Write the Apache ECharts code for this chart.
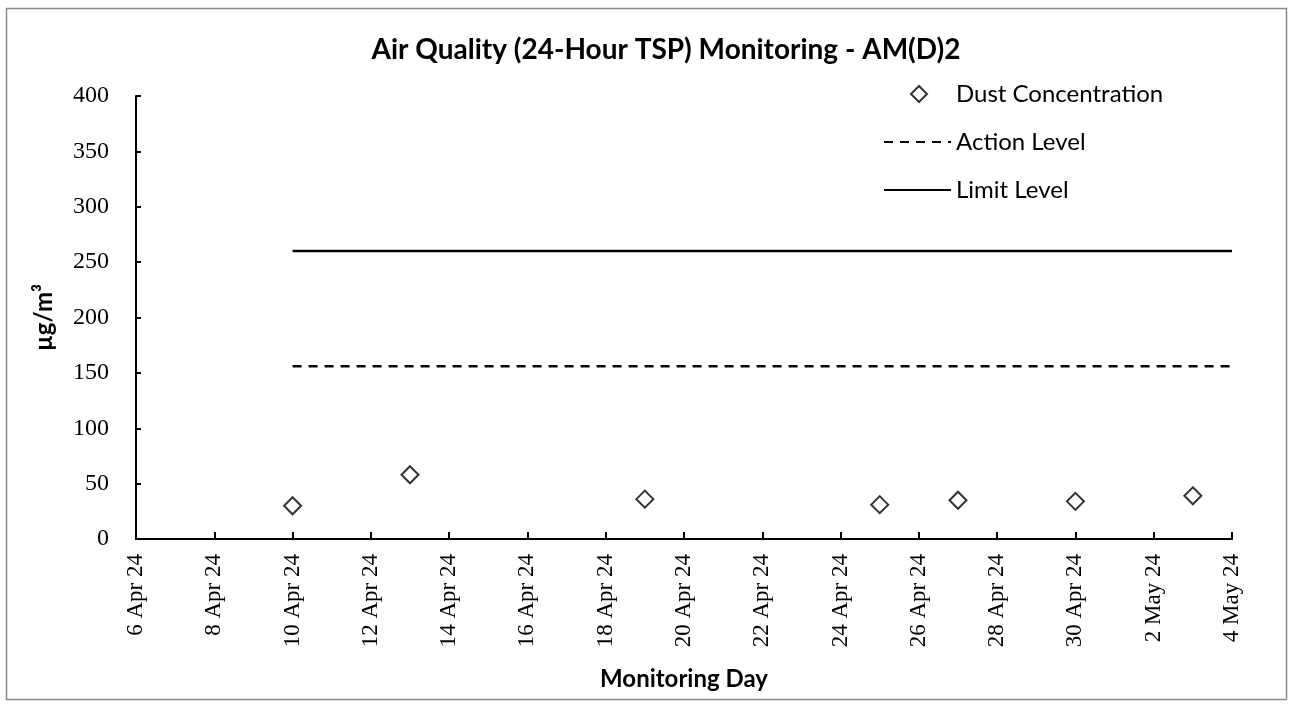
<!DOCTYPE html>
<html>
<head>
<meta charset="utf-8">
<script src="https://cdn.jsdelivr.net/npm/echarts@6/dist/echarts.min.js"></script>
<style>
  html, body { margin: 0; padding: 0; background: #fff; }
  #chart { width: 1293px; height: 704px; }
</style>
</head>
<body>
<div id="chart"></div>
<script>
// Monitoring dates and 24-hour TSP results (µg/m³)
const sampleDates = ['2024-04-10', '2024-04-13', '2024-04-19', '2024-04-25', '2024-04-27', '2024-04-30', '2024-05-03'];
const dustValues = [30, 58, 36, 31, 35, 34, 39];

// Compliance levels and the span over which they apply
const levelDates = ['2024-04-10', '2024-05-04'];
const actionLevel = 156;
const limitLevel = 260;

// Axis range
const axisStart = '2024-04-06';
const axisEnd = '2024-05-04';
const dayStep = 2;
const yTicks = [0, 50, 100, 150, 200, 250, 300, 350, 400];

const MONTHS = ['Jan', 'Feb', 'Mar', 'Apr', 'May', 'Jun', 'Jul', 'Aug', 'Sep', 'Oct', 'Nov', 'Dec'];
const DAY = 86400000;
const base = Date.parse(axisStart + 'T00:00:00Z');
const dayOf = s => Math.round((Date.parse(s + 'T00:00:00Z') - base) / DAY);
const dateLabel = d => {
  const t = new Date(base + d * DAY);
  return t.getUTCDate() + ' ' + MONTHS[t.getUTCMonth()] + ' ' + String(t.getUTCFullYear()).slice(2);
};

const serif = '"Liberation Serif", "Times New Roman", serif';
const sans = 'Lato, "Open Sans", sans-serif';
const legendText = { fontFamily: sans, fontSize: 24, color: '#000' };

const chart = echarts.init(document.getElementById('chart'));
chart.setOption({
  animation: false,
  backgroundColor: '#fff',
  graphic: [{
    type: 'rect',
    shape: { x: 6.5, y: 8.5, width: 1280, height: 691 },
    style: { fill: 'none', stroke: '#8a8a8a', lineWidth: 1.5 },
    silent: true
  }],
  title: {
    text: 'Air Quality (24-Hour TSP) Monitoring - AM(D)2',
    left: 661, top: 31, textAlign: 'center',
    textStyle: { fontFamily: sans, fontWeight: 'bold', fontSize: 28, color: '#000' }
  },
  legend: [
    {
      // marker entry
      orient: 'vertical',
      left: 905, top: 77,
      itemWidth: 16, itemHeight: 16,
      textStyle: Object.assign({ padding: [0, 0, 0, 24] }, legendText),
      data: ['Dust Concentration']
    },
    {
      // line entries
      orient: 'vertical',
      left: 878, top: 125,
      itemWidth: 67, itemHeight: 14, itemGap: 24,
      textStyle: Object.assign({ padding: [0, 0, 0, 0] }, legendText),
      data: [
        { name: 'Action Level', itemStyle: { opacity: 0 } },
        { name: 'Limit Level', itemStyle: { opacity: 0 } }
      ]
    }
  ],
  grid: { left: 136, right: 61, top: 96, bottom: 165, containLabel: false },
  xAxis: {
    type: 'value',
    min: 0, max: dayOf(axisEnd), interval: dayStep,
    name: 'Monitoring Day', nameLocation: 'middle', nameGap: 128,
    nameTextStyle: { fontFamily: sans, fontWeight: 'bold', fontSize: 24, color: '#000' },
    axisLine: { lineStyle: { color: '#000', width: 2 } },
    axisTick: { inside: true, length: 7, lineStyle: { color: '#000', width: 2 } },
    splitLine: { show: false },
    axisLabel: {
      rotate: 90, margin: 15,
      fontFamily: serif, fontSize: 23, color: '#000',
      formatter: v => dateLabel(v)
    }
  },
  yAxis: {
    type: 'value',
    min: yTicks[0], max: yTicks[yTicks.length - 1], interval: yTicks[1] - yTicks[0],
    name: 'µg/m³', nameLocation: 'middle', nameGap: 80, nameRotate: 90,
    nameTextStyle: { fontFamily: sans, fontWeight: 'bold', fontSize: 24, color: '#000' },
    axisLine: { show: true, lineStyle: { color: '#000', width: 2 } },
    axisTick: { show: true, inside: true, length: 5, lineStyle: { color: '#000', width: 2 } },
    splitLine: { show: false },
    axisLabel: { margin: 27, fontFamily: serif, fontSize: 24, color: '#000' }
  },
  series: [
    {
      name: 'Dust Concentration',
      type: 'scatter',
      symbol: 'diamond',
      symbolSize: 17,
      itemStyle: { color: '#fff', borderColor: '#000', borderWidth: 2 },
      data: sampleDates.map((d, i) => [dayOf(d), dustValues[i]]),
      z: 5
    },
    {
      name: 'Action Level',
      type: 'line',
      symbol: 'none',
      lineStyle: { color: '#000', width: 2.5, type: [9, 7] },
      itemStyle: { color: '#000' },
      data: levelDates.map(d => [dayOf(d), actionLevel])
    },
    {
      name: 'Limit Level',
      type: 'line',
      symbol: 'none',
      lineStyle: { color: '#000', width: 2.5 },
      itemStyle: { color: '#000' },
      data: levelDates.map(d => [dayOf(d), limitLevel])
    }
  ]
});
</script>
</body>
</html>
